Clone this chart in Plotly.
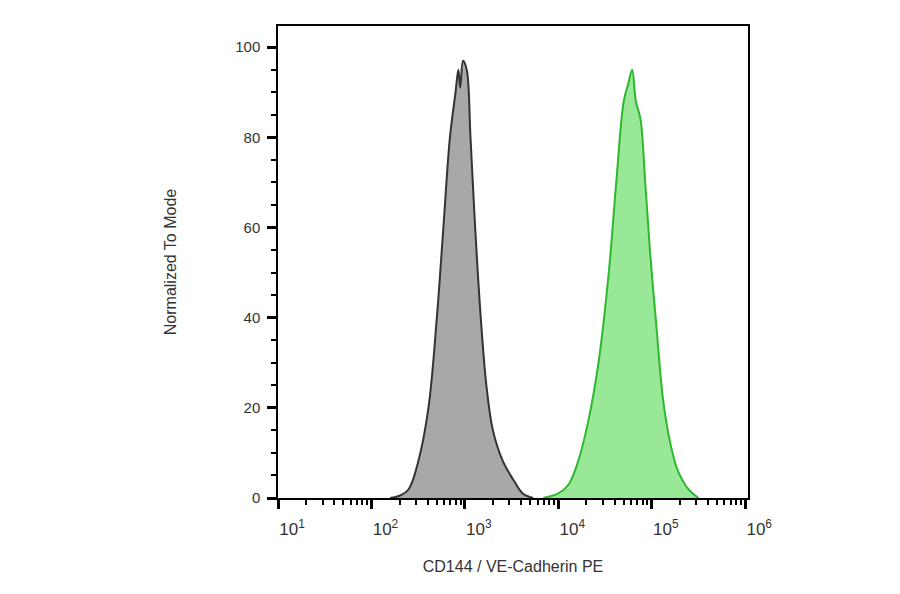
import plotly.graph_objects as go

# histogram outlines, x in log10 units, y in % of mode
iso_log = [2.20, 2.30, 2.40, 2.50, 2.61, 2.70, 2.77, 2.84, 2.90, 2.93, 2.95, 2.98, 3.02,
           3.06, 3.11, 3.17, 3.23, 3.30, 3.41, 3.52, 3.62, 3.73]
iso_y = [0, 0.5, 2, 8, 20, 40, 60, 80, 90, 95, 91, 97, 95,
         80, 60, 40, 25, 15, 8, 4, 1, 0]
pe_log = [3.84, 4.00, 4.11, 4.21, 4.32, 4.43, 4.54, 4.62, 4.70, 4.75, 4.79, 4.83, 4.88,
          4.93, 4.98, 5.05, 5.12, 5.20, 5.28, 5.39, 5.50]
pe_y = [0, 1, 3, 8, 17, 30, 50, 70, 88, 92, 95, 88, 84,
        70, 55, 38, 22, 12, 6, 2, 0]
tick_exp = [1, 2, 3, 4, 5, 6]

fig = go.Figure()
fig.add_trace(go.Scatter(x=[10 ** v for v in iso_log], y=iso_y, mode="lines",
                         fill="tozeroy", fillcolor="#a8a8a8",
                         line=dict(color="#333333", width=2, shape="spline")))
fig.add_trace(go.Scatter(x=[10 ** v for v in pe_log], y=pe_y, mode="lines",
                         fill="tozeroy", fillcolor="#98e898",
                         line=dict(color="#2eb82e", width=2, shape="spline")))

fig.update_layout(
    width=900, height=594, showlegend=False,
    paper_bgcolor="white", plot_bgcolor="white",
    margin=dict(l=270, r=160, t=18, b=104),
    font=dict(family="Liberation Sans, Arial", size=15, color="#333333"),
)
fig.update_xaxes(
    type="log", range=[1, 6.03], automargin=False,
    tickvals=[10 ** e for e in tick_exp],
    ticktext=["10<sup>%d</sup>" % e for e in tick_exp],
    tickfont=dict(size=17),
    ticks="outside", ticklen=9, tickwidth=3, tickcolor="black",
    minor=dict(ticks="outside", ticklen=5, tickwidth=2, tickcolor="black", dtick="D1"),
    ticklabelshift=14, ticklabelstandoff=6,
    showline=True, linecolor="black", linewidth=2, mirror=True,
    showgrid=False, zeroline=False,
    title=dict(text="CD144 / VE-Cadherin PE", standoff=22, font=dict(size=16)),
)
fig.update_yaxes(
    range=[0, 104.7], tickvals=[0, 20, 40, 60, 80, 100], automargin=False,
    ticks="outside", ticklen=9, tickwidth=3, tickcolor="black",
    minor=dict(ticks="outside", ticklen=5, tickwidth=1.5, tickcolor="black", dtick=5),
    ticklabelstandoff=4,
    showline=True, linecolor="black", linewidth=1.5, mirror=True,
    showgrid=False, zeroline=False,
    title=dict(text="Normalized To Mode", standoff=55, font=dict(size=16)),
)

fig.write_html("out.html")
